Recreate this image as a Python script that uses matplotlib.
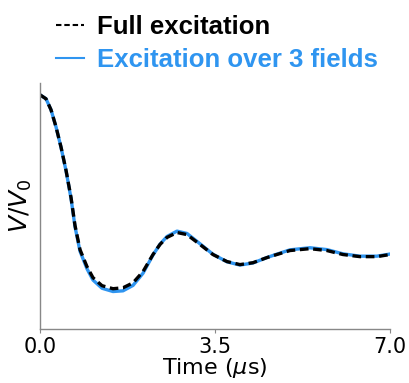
import matplotlib.pyplot as plt
import numpy as np

# (time in us, signal normalised to V0)
aeg = [0.0, 0.12, 0.22, 0.32, 0.42, 0.52, 0.62, 0.70, 0.80, 0.94, 1.06, 1.24,
       1.46, 1.66, 1.86, 2.06, 2.26, 2.40, 2.54, 2.74, 2.94, 3.20, 3.46, 3.74,
       4.00, 4.26, 4.54, 4.66, 5.00, 5.40, 5.74, 6.06, 6.40, 6.74, 7.00]
taisergastus = [1.0, 0.983, 0.936, 0.863, 0.777, 0.678, 0.562, 0.442, 0.339,
                0.266, 0.219, 0.185, 0.172, 0.176, 0.197, 0.245, 0.318, 0.361,
                0.391, 0.412, 0.403, 0.361, 0.318, 0.288, 0.275, 0.283, 0.305,
                0.313, 0.335, 0.343, 0.335, 0.318, 0.309, 0.309, 0.318]
kolm_valja = [1.0, 0.983, 0.936, 0.863, 0.776, 0.676, 0.558, 0.437, 0.332,
              0.257, 0.209, 0.174, 0.16, 0.163, 0.186, 0.238, 0.316, 0.362,
              0.395, 0.418, 0.408, 0.364, 0.319, 0.287, 0.273, 0.282, 0.305,
              0.314, 0.338, 0.347, 0.339, 0.321, 0.311, 0.311, 0.32]

sinine = "#2f95f0"

fig = plt.figure(figsize=(4.1, 3.83), dpi=100)
ax = fig.add_axes([0.0976, 0.141, 0.8534, 0.642])

ax.plot(aeg, kolm_valja, color=sinine, lw=2.4, label="Excitation over 3 fields")
ax.plot(aeg, taisergastus, color="black", lw=2.4, linestyle=(0, (2.6, 1.4)),
        label="Full excitation")

ax.set_xlim(0, 7)
ax.set_ylim(0, 1.05)
ax.set_xticks([0, 3.5, 7])
ax.set_xticklabels(["0.0", "3.5", "7.0"])
ax.set_yticks([])
ax.tick_params(axis="x", labelsize=15, length=3, color="#888888", pad=3)
for s in ["top", "right"]:
    ax.spines[s].set_visible(False)
for s in ["left", "bottom"]:
    ax.spines[s].set_color("#888888")
    ax.spines[s].set_linewidth(1.0)

ax.set_xlabel(r"Time ($\mu$s)", fontsize=16, labelpad=-1)
ax.set_ylabel(r"$V/V_0$", fontsize=18, labelpad=4)

kasud, sildid = ax.get_legend_handles_labels()
leg = fig.legend(kasud[::-1], sildid[::-1], loc="upper left",
                 bbox_to_anchor=(0.098, 1.0), frameon=False,
                 prop={"family": "Liberation Sans", "weight": "bold", "size": 18.5},
                 handlelength=1.1, handletextpad=0.5, labelspacing=0.33,
                 borderaxespad=0.2)
for tekst, v in zip(leg.get_texts(), ["black", sinine]):
    tekst.set_color(v)
for joon in leg.get_lines():
    joon.set_linewidth(1.5)

plt.savefig("out.png", dpi=100)
